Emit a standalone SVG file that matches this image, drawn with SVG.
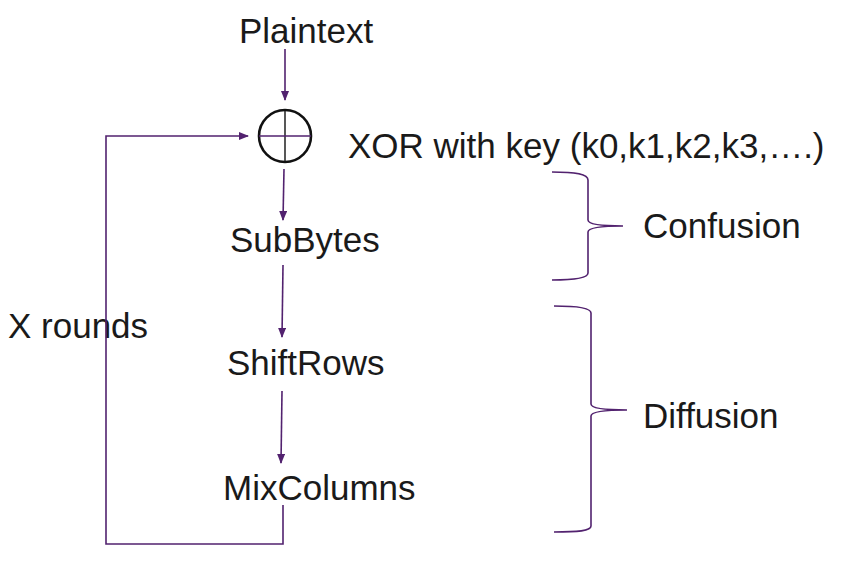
<svg xmlns="http://www.w3.org/2000/svg" width="847" height="565" viewBox="0 0 847 565">
<defs>
<style>
text{font-family:"Liberation Sans",Arial,Helvetica,sans-serif;font-size:35px;fill:#1a1a1a}
.c{stroke:#52226f;stroke-width:1.6;fill:none}
</style>
<marker id="ah" markerWidth="10" markerHeight="8" refX="9" refY="4" orient="auto" markerUnits="userSpaceOnUse">
<path d="M0,0 L10,4 L0,8 Z" fill="#52226f"/>
</marker>
</defs>
<rect width="847" height="565" fill="#fff"/>
<g id="plaintext"><text x="239" y="43">Plaintext</text></g>
<g id="xor">
<circle cx="285" cy="136" r="26" fill="none" stroke="#111" stroke-width="2.6"/>
<line x1="285" y1="110" x2="285" y2="162" stroke="#111" stroke-width="1.4"/>
<line x1="259" y1="136" x2="311" y2="136" stroke="#52226f" stroke-width="1.6"/>
</g>
<g id="xor-label"><text x="348" y="158">XOR with key (k0,k1,k2,k3,….)</text></g>
<g id="subbytes"><text x="230" y="252">SubBytes</text></g>
<g id="shiftrows"><text x="227" y="375">ShiftRows</text></g>
<g id="mixcolumns"><text x="223" y="500">MixColumns</text></g>
<g id="xrounds"><text x="8" y="338">X rounds</text></g>
<g id="confusion">
<path class="c" d="M552,172 C576,172 588,174 588,180 L588,220 C588,224 600,226 623,226 C600,226 588,228 588,232 L588,273 C588,278 576,280 552,280"/>
<text x="643" y="238">Confusion</text>
</g>
<g id="diffusion">
<path class="c" d="M554,306 C578,306 591,308 591,313 L591,404 C591,408 603,410 627,410 C603,410 591,412 591,416 L591,526 C591,531 578,532 554,532"/>
<text x="643" y="428">Diffusion</text>
</g>
<g id="connectors">
<line class="c" x1="285" y1="49" x2="285" y2="100" marker-end="url(#ah)"/>
<line class="c" x1="284" y1="169" x2="283" y2="220" marker-end="url(#ah)"/>
<line class="c" x1="283" y1="265" x2="282" y2="337" marker-end="url(#ah)"/>
<line class="c" x1="282" y1="391" x2="281" y2="463" marker-end="url(#ah)"/>
<polyline class="c" points="283,505 283,544 106,544 106,136 248,136" marker-end="url(#ah)"/>
</g>
</svg>
